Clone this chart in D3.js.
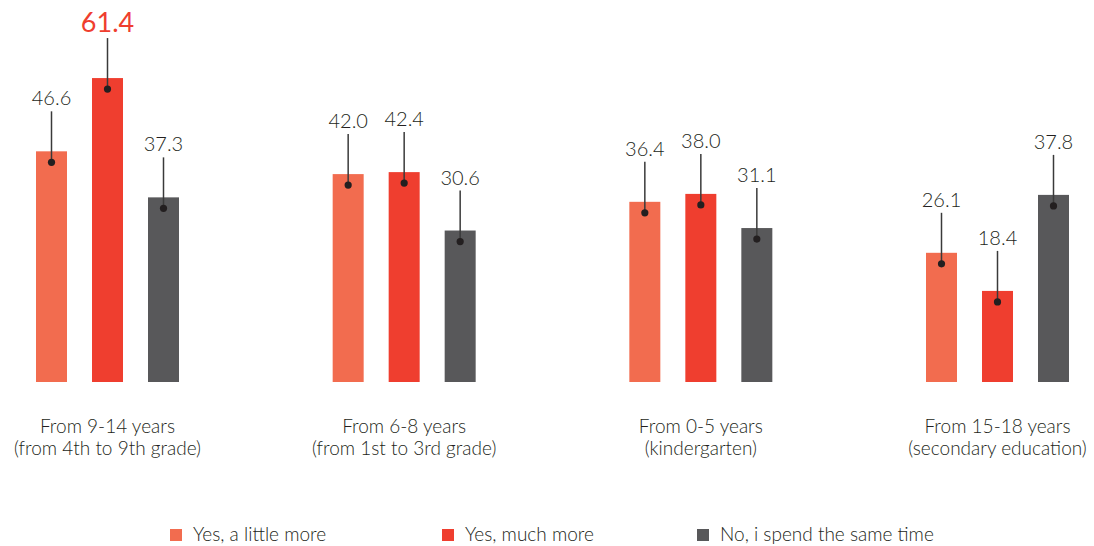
<!DOCTYPE html>
<html>
<head>
<meta charset="utf-8">
<script src="https://cdn.jsdelivr.net/npm/d3@7"></script>
<style>
  html, body { margin: 0; padding: 0; background: #ffffff; }
  svg { display: block; }
  text { font-family: Lato, "Open Sans", sans-serif; font-weight: 300; }
</style>
</head>
<body>
<svg id="chart" width="1094" height="546"></svg>
<script>
// ---- data ----
const categories = [
  ["From 9-14 years", "(from 4th to 9th grade)"],
  ["From 6-8 years", "(from 1st to 3rd grade)"],
  ["From 0-5 years", "(kindergarten)"],
  ["From 15-18 years", "(secondary education)"]
];
const seriesNames = ["Yes, a little more", "Yes, much more", "No, i spend the same time"];
const littleMore = [46.6, 42.0, 36.4, 26.1];
const muchMore   = [61.4, 42.4, 38.0, 18.4];
const sameTime   = [37.3, 30.6, 31.1, 37.8];
const seriesColors = ["#F26C4F", "#EF3E2F", "#58585A"];

const seriesValues = [littleMore, muchMore, sameTime];
const catKeys = categories.map(c => c[0]);

const svg = d3.select("#chart");
const textColor = "#231F20";

const x0 = d3.scalePoint().domain(catKeys).range([107.5, 997.5]);
const x1 = d3.scaleBand().domain(seriesNames).range([-84, 84])
  .paddingInner(25 / 56).paddingOuter(25 / 112);
const y = d3.scaleLinear().domain([0, 382 / 4.95]).range([382, 0]);

const maxVal = d3.max(seriesValues.flat());

const rows = [];
catKeys.forEach((c, i) => {
  seriesNames.forEach((s, j) => {
    rows.push({ cat: c, series: s, value: seriesValues[j][i], color: seriesColors[j] });
  });
});

const g = svg.append("g");
const items = g.selectAll("g.item").data(rows).join("g")
  .attr("class", "item")
  .attr("transform", d => `translate(${x0(d.cat)},0)`);

items.append("rect")
  .attr("x", d => x1(d.series))
  .attr("y", d => y(d.value))
  .attr("width", x1.bandwidth())
  .attr("height", d => y(0) - y(d.value))
  .attr("fill", d => d.color);

const cx = d => x1(d.series) + x1.bandwidth() / 2;

items.append("line")
  .attr("x1", cx).attr("x2", cx)
  .attr("y1", d => y(d.value) - 40)
  .attr("y2", d => y(d.value) + 11)
  .attr("stroke", "#3a3a3a")
  .attr("stroke-width", 1.5);

items.append("circle")
  .attr("cx", cx)
  .attr("cy", d => y(d.value) + 11)
  .attr("r", 3.6)
  .attr("fill", textColor);

items.append("text")
  .attr("x", cx)
  .attr("y", d => y(d.value) - 46)
  .attr("text-anchor", "middle")
  .attr("font-size", d => d.value === maxVal ? 27 : 20)
  .style("font-weight", d => d.value === maxVal ? 400 : 300)
  .attr("fill", d => d.value === maxVal ? "#EF3E2F" : textColor)
  .text(d => d.value.toFixed(1));

// category labels
const labels = g.selectAll("text.cat").data(categories).join("text")
  .attr("class", "cat")
  .attr("x", d => x0(d[0]))
  .attr("y", 433)
  .attr("text-anchor", "middle")
  .attr("font-size", 19)
  .attr("fill", textColor);
labels.append("tspan").attr("x", d => x0(d[0])).attr("dy", 0).text(d => d[0]);
labels.append("tspan").attr("x", d => x0(d[0])).attr("dy", 22).text(d => d[1]);

// legend
const legendX = [170, 442, 697];
const leg = svg.append("g").selectAll("g").data(seriesNames).join("g")
  .attr("transform", (d, i) => `translate(${legendX[i]},529)`);
leg.append("rect").attr("width", 12).attr("height", 12)
  .attr("fill", (d, i) => seriesColors[i]);
leg.append("text").attr("x", 23).attr("y", 12)
  .attr("font-size", 19).attr("fill", textColor)
  .text(d => d);
</script>
</body>
</html>
